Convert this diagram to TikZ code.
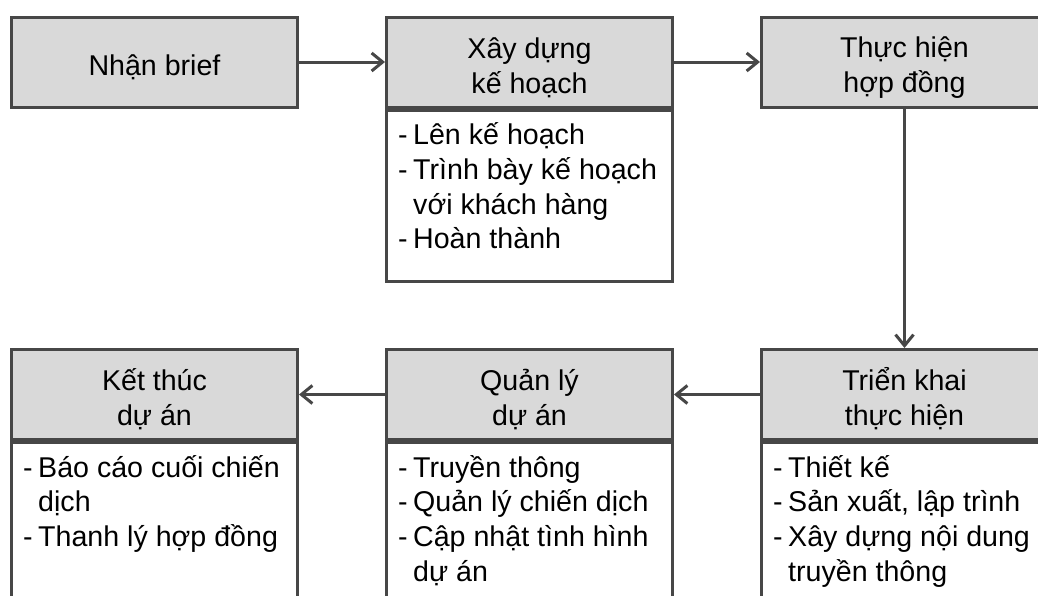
\documentclass[tikz,border=0pt]{standalone}
\usepackage{fontspec}
\setmainfont{Liberation Sans}
\usetikzlibrary{arrows.meta}
\definecolor{edgegray}{HTML}{474747}
\definecolor{headfill}{HTML}{D9D9D9}
\newcommand{\bitem}[1]{\noindent\spaceskip=0pt\xspaceskip=0pt\rightskip=0pt plus 1fil\parfillskip=0pt plus 1fil\hangindent=15pt\hangafter=1\makebox[15pt][l]{-}#1\par}
\newcommand{\firstline}{\rule{0pt}{32pt}}
\newcommand{\headstrut}{\rule{0pt}{32pt}}
\tikzset{
  headbox/.style={draw=edgegray, line width=3pt, fill=headfill, minimum width=286pt, minimum height=90pt, align=center, inner sep=0pt, font=\fontsize{28.6}{34.7}\selectfont},
  bodybox/.style={draw=edgegray, line width=3pt, fill=white, minimum width=286pt, minimum height=171pt, anchor=north, inner sep=0pt},
  bodytext/.style={anchor=north west, inner sep=0pt, text width=290pt, font={\fontsize{28.6}{34.7}\selectfont}},
  flow/.style={draw=edgegray, line width=3pt, -{Straight Barb[length=11pt,width=18pt,line width=3pt]}}
}
\begin{document}
\begin{tikzpicture}[x=1pt,y=-1pt]
\useasboundingbox (0,0) rectangle (1038,595);
\clip (0,0) rectangle (1038,595);
\fill[white] (0,0) rectangle (1038,595);
% top row
\node[headbox] (h1) at (154.5,62) {\headstrut Nhận brief};
\node[headbox] (h2) at (529.5,62) {\headstrut Xây dựng\\kế hoạch};
\node[headbox] (h3) at (904.5,62) {\headstrut Thực hiện\\hợp đồng};
\node[bodybox] (b2) at (h2.south) {};
\node[bodytext] (t2) at ([xshift=13pt,yshift=-4pt]b2.north west) {\bitem{\firstline Lên kế hoạch}\bitem{Trình bày kế hoạch\newline với khách hàng}\bitem{Hoàn thành}};
% bottom row
\node[headbox] (h4) at (154.5,394.5) {\headstrut Kết thúc\\dự án};
\node[headbox] (h5) at (529.5,394.5) {\headstrut Quản lý\\dự án};
\node[headbox] (h6) at (904.5,394.5) {\headstrut Triển khai\\thực hiện};
\node[bodybox] (b4) at (h4.south) {};
\node[bodybox] (b5) at (h5.south) {};
\node[bodybox] (b6) at (h6.south) {};
\node[bodytext] (t4) at ([xshift=13pt,yshift=-4pt]b4.north west) {\bitem{\firstline Báo cáo cuối chiến\newline dịch}\bitem{Thanh lý hợp đồng}};
\node[bodytext] (t5) at ([xshift=13pt,yshift=-4pt]b5.north west) {\bitem{\firstline Truyền thông}\bitem{Quản lý chiến dịch}\bitem{Cập nhật tình hình\newline dự án}};
\node[bodytext] (t6) at ([xshift=13pt,yshift=-4pt]b6.north west) {\bitem{\firstline Thiết kế}\bitem{Sản xuất, lập trình}\bitem{Xây dựng nội dung\newline truyền thông}};
% connectors
\draw[flow] (h1.east) -- (h2.west);
\draw[flow] (h2.east) -- (h3.west);
\draw[flow] (h3.south) -- (h6.north);
\draw[flow] (h6.west) -- (h5.east);
\draw[flow] (h5.west) -- (h4.east);
\end{tikzpicture}
\end{document}
